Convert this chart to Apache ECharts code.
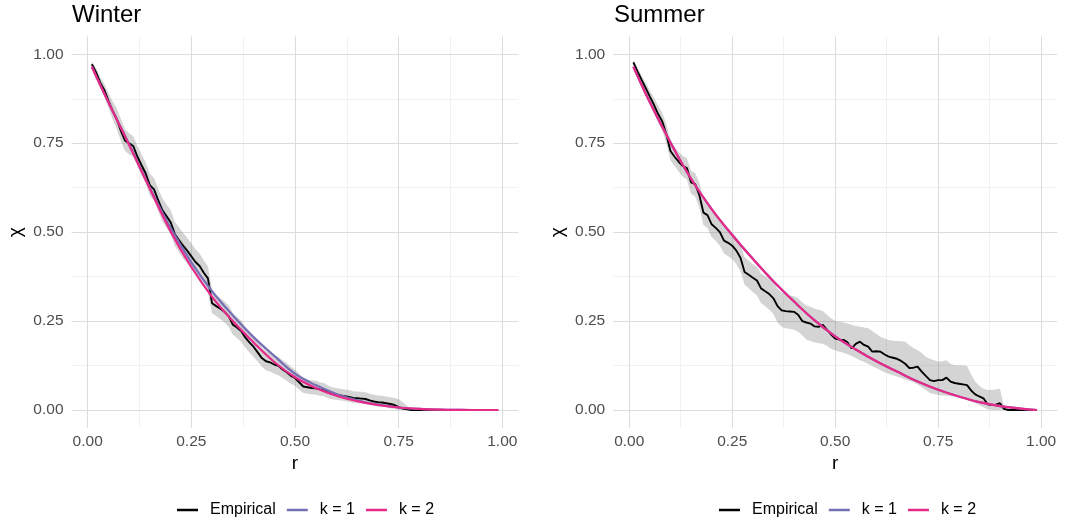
<!DOCTYPE html>
<html>
<head>
<meta charset="utf-8">
<script src="https://cdn.jsdelivr.net/npm/echarts@6/dist/echarts.min.js"></script>
<style>
  html, body { margin: 0; padding: 0; background: #ffffff; }
  #chart { width: 1083px; height: 522px; }
</style>
</head>
<body>
<div id="chart"></div>
<script>
// Evaluation grid for the empirical extremal dependence estimates
const rGrid = [
  0.01,0.02,0.03,0.04,0.05,0.06,0.07,0.08,0.09,0.10,
  0.11,0.12,0.13,0.14,0.15,0.16,0.17,0.18,0.19,0.20,
  0.21,0.22,0.23,0.24,0.25,0.26,0.27,0.28,0.29,0.30,
  0.31,0.32,0.33,0.34,0.35,0.36,0.37,0.38,0.39,0.40,
  0.41,0.42,0.43,0.44,0.45,0.46,0.47,0.48,0.49,0.50,
  0.51,0.52,0.53,0.54,0.55,0.56,0.57,0.58,0.59,0.60,
  0.61,0.62,0.63,0.64,0.65,0.66,0.67,0.68,0.69,0.70,
  0.71,0.72,0.73,0.74,0.75,0.76,0.77,0.78,0.79,0.80,
  0.81,0.82,0.83,0.84,0.85,0.86,0.87,0.88,0.89,0.90,
  0.91,0.92,0.93,0.94,0.95,0.96,0.97,0.98,0.99
];

// Winter: empirical chi and its confidence band
const winterEmp = [
  0.972,0.950,0.921,0.900,0.870,0.842,0.818,0.785,0.757,0.750,
  0.742,0.712,0.688,0.665,0.632,0.620,0.590,0.562,0.545,0.528,
  0.495,0.478,0.462,0.448,0.432,0.416,0.405,0.386,0.370,0.300,
  0.292,0.285,0.276,0.264,0.240,0.232,0.222,0.204,0.190,0.178,
  0.162,0.146,0.137,0.134,0.128,0.124,0.114,0.106,0.096,0.090,
  0.078,0.066,0.064,0.062,0.061,0.058,0.056,0.049,0.045,0.042,
  0.041,0.039,0.037,0.034,0.033,0.032,0.031,0.027,0.024,0.022,
  0.021,0.019,0.017,0.014,0.008,0.004,0.002,0,0,0,
  0,0,0,0,0,0,0,0,0,0,
  0,0,0,0,0,0,0,0,0
];
const winterLo = [
  0.962,0.938,0.907,0.882,0.850,0.818,0.790,0.756,0.728,0.718,
  0.712,0.684,0.660,0.636,0.602,0.588,0.558,0.530,0.512,0.494,
  0.462,0.444,0.426,0.412,0.396,0.380,0.366,0.350,0.330,0.272,
  0.264,0.256,0.246,0.234,0.212,0.202,0.192,0.176,0.162,0.150,
  0.136,0.122,0.112,0.108,0.102,0.098,0.090,0.082,0.074,0.068,
  0.058,0.048,0.046,0.044,0.043,0.040,0.039,0.033,0.030,0.028,
  0.027,0.025,0.023,0.020,0.019,0.018,0.017,0.014,0.012,0.010,
  0.009,0.007,0.005,0.003,0,0,0,0,0,0,
  0,0,0,0,0,0,0,0,0,0,
  0,0,0,0,0,0,0,0,0
];
const winterHi = [
  0.980,0.962,0.936,0.918,0.892,0.868,0.848,0.818,0.790,0.778,
  0.770,0.742,0.718,0.696,0.664,0.652,0.622,0.596,0.578,0.562,
  0.530,0.514,0.498,0.484,0.468,0.452,0.440,0.420,0.404,0.338,
  0.322,0.314,0.306,0.294,0.272,0.262,0.252,0.234,0.220,0.208,
  0.192,0.176,0.166,0.160,0.154,0.150,0.140,0.132,0.122,0.114,
  0.102,0.090,0.086,0.084,0.082,0.078,0.076,0.069,0.064,0.061,
  0.060,0.058,0.056,0.053,0.052,0.051,0.050,0.046,0.043,0.041,
  0.040,0.038,0.036,0.034,0.030,0.022,0.012,0.004,0,0,
  0,0,0,0,0,0,0,0,0,0,
  0,0,0,0,0,0,0,0,0
];

// Summer: empirical chi and its confidence band
const summerEmp = [
  0.977,0.952,0.928,0.905,0.881,0.858,0.832,0.812,0.775,0.728,
  0.712,0.698,0.686,0.680,0.640,0.635,0.605,0.555,0.548,0.522,
  0.512,0.500,0.476,0.470,0.462,0.448,0.428,0.388,0.380,0.372,
  0.364,0.342,0.334,0.326,0.314,0.292,0.280,0.278,0.277,0.276,
  0.268,0.250,0.246,0.243,0.235,0.234,0.239,0.226,0.212,0.201,
  0.198,0.197,0.190,0.173,0.186,0.192,0.183,0.178,0.164,0.165,
  0.164,0.156,0.150,0.147,0.144,0.138,0.130,0.118,0.119,0.122,
  0.108,0.096,0.084,0.081,0.084,0.084,0.091,0.080,0.076,0.074,
  0.072,0.070,0.055,0.044,0.038,0.033,0.016,0.014,0.015,0.019,
  0.003,0,0,0,0,0,0,0,0
];
const summerLo = [
  0.968,0.940,0.914,0.888,0.862,0.836,0.808,0.786,0.750,0.702,
  0.686,0.670,0.656,0.648,0.608,0.600,0.570,0.520,0.512,0.486,
  0.476,0.462,0.440,0.432,0.424,0.410,0.390,0.352,0.342,0.332,
  0.322,0.300,0.292,0.282,0.270,0.246,0.234,0.230,0.228,0.226,
  0.220,0.210,0.198,0.194,0.190,0.188,0.186,0.180,0.172,0.168,
  0.164,0.161,0.157,0.152,0.146,0.140,0.135,0.130,0.124,0.118,
  0.112,0.106,0.102,0.098,0.094,0.090,0.086,0.082,0.078,0.072,
  0.064,0.056,0.048,0.045,0.042,0.041,0.040,0.039,0.038,0.038,
  0.034,0.030,0.024,0.020,0.014,0.008,0.002,0,0,0,
  0,0,0,0,0,0,0,0,0
];
const summerHi = [
  0.984,0.962,0.940,0.920,0.898,0.878,0.856,0.836,0.804,0.758,
  0.740,0.726,0.714,0.708,0.672,0.666,0.640,0.592,0.584,0.558,
  0.548,0.536,0.514,0.506,0.498,0.486,0.466,0.430,0.420,0.410,
  0.402,0.384,0.376,0.370,0.360,0.340,0.330,0.326,0.322,0.320,
  0.314,0.302,0.294,0.290,0.285,0.282,0.278,0.268,0.258,0.250,
  0.248,0.246,0.243,0.240,0.236,0.234,0.232,0.230,0.222,0.214,
  0.206,0.201,0.197,0.195,0.194,0.193,0.192,0.182,0.174,0.168,
  0.160,0.150,0.144,0.140,0.136,0.137,0.140,0.130,0.126,0.126,
  0.126,0.124,0.100,0.080,0.068,0.060,0.056,0.056,0.058,0.060,
  0.010,0,0,0,0,0,0,0,0
];

// Fitted model curves (k = 1, k = 2)
const rModel = [0.01,0.05,0.10,0.15,0.20,0.25,0.30,0.35,0.40,0.45,0.50,
                0.55,0.60,0.65,0.70,0.75,0.80,0.85,0.90,0.95,0.99];
const winterK1 = [0.965,0.865,0.747,0.625,0.512,0.415,0.334,0.266,0.205,0.152,0.102,
                  0.070,0.045,0.027,0.015,0.007,0.003,0.001,0.0003,0,0];
const winterK2 = [0.965,0.865,0.745,0.622,0.502,0.402,0.318,0.250,0.190,0.135,0.092,
                  0.062,0.040,0.025,0.014,0.007,0.003,0.001,0.0003,0,0];
const summerK1 = [0.965,0.865,0.752,0.650,0.565,0.492,0.425,0.362,0.305,0.252,0.207,
                  0.170,0.137,0.108,0.080,0.057,0.038,0.022,0.011,0.004,0];
const summerK2 = [0.965,0.865,0.752,0.650,0.565,0.492,0.425,0.362,0.305,0.252,0.207,
                  0.170,0.137,0.108,0.080,0.057,0.038,0.022,0.011,0.004,0];

const panelTitles = ['Winter', 'Summer'];
const legendNames = ['Empirical', 'k = 1', 'k = 2'];
const tickValues = [0, 0.25, 0.5, 0.75, 1];

const FONT = '"Liberation Sans", Arial, Helvetica, sans-serif';
const COLORS = { emp: '#000000', k1: '#7570B3', k2: '#E7298A', band: 'rgba(120,120,120,0.32)' };

function tickLabel(v) {
  for (const t of tickValues) {
    if (Math.abs(v - t) < 1e-9) return t.toFixed(2);
  }
  return '';
}

function axisPair(kind, gridIndex) {
  const isX = kind === 'x';
  const ext = isX ? [-0.039, 1.039] : [-0.05, 1.05];
  const minor = {
    type: 'value', gridIndex, min: ext[0], max: ext[1],
    minInterval: 0.125, maxInterval: 0.125,
    position: isX ? 'top' : 'right',
    axisLine: { show: false }, axisTick: { show: false }, axisLabel: { show: false },
    splitLine: { show: true, showMinLine: false, showMaxLine: false,
                 lineStyle: { color: '#ededed', width: 0.8 } },
    z: 0
  };
  const major = {
    type: 'value', gridIndex, min: ext[0], max: ext[1],
    minInterval: 0.25, maxInterval: 0.25,
    position: isX ? 'bottom' : 'left',
    axisLine: { show: false }, axisTick: { show: false },
    axisLabel: { show: true, interval: 0, formatter: tickLabel, color: '#4d4d4d',
                 fontSize: 15.5, fontFamily: FONT, margin: isX ? 6 : 8 },
    splitLine: { show: true, showMinLine: false, showMaxLine: false,
                 lineStyle: { color: '#dcdcdc', width: 1.1 } },
    name: isX ? 'r' : 'χ',
    nameLocation: 'middle',
    nameGap: isX ? 26 : 46,
    nameRotate: isX ? 0 : 90,
    nameTextStyle: { color: '#000000', fontSize: 19, fontFamily: FONT },
    z: 1
  };
  return [minor, major];
}

function bandSeries(axisIdx, lo, hi) {
  return {
    type: 'custom', xAxisIndex: axisIdx, yAxisIndex: axisIdx, silent: true, z: 2,
    data: rGrid.map((r, i) => [r, lo[i], hi[i]]),
    encode: { x: 0, y: [1, 2] },
    renderItem: function (params, api) {
      if (params.dataIndex !== 0) return null;
      const pts = [];
      for (let i = 0; i < rGrid.length; i++) pts.push(api.coord([rGrid[i], hi[i]]));
      for (let i = rGrid.length - 1; i >= 0; i--) pts.push(api.coord([rGrid[i], lo[i]]));
      return { type: 'polygon', shape: { points: pts }, style: { fill: COLORS.band } };
    }
  };
}

function lineSeries(axisIdx, name, xs, ys, color, width, smooth, z) {
  return {
    type: 'line', name, xAxisIndex: axisIdx, yAxisIndex: axisIdx,
    data: xs.map((r, i) => [r, ys[i]]),
    showSymbol: false, symbol: 'none', smooth, z,
    lineStyle: { color, width }, itemStyle: { color }
  };
}

const [wxMinor, wxMajor] = axisPair('x', 0);
const [sxMinor, sxMajor] = axisPair('x', 1);
const [wyMinor, wyMajor] = axisPair('y', 0);
const [syMinor, syMajor] = axisPair('y', 1);

const legendBase = {
  orient: 'horizontal', top: 502, padding: 0, icon: 'rect', itemWidth: 21, itemHeight: 2.5, itemGap: 11,
  selectedMode: false,
  textStyle: { fontSize: 16, color: '#000000', fontFamily: FONT, padding: [0, 0, 0, 7] },
  data: legendNames
};

const titleStyle = { fontSize: 24, fontWeight: 'normal', color: '#000', fontFamily: FONT };

const option = {
  animation: false,
  backgroundColor: '#ffffff',
  textStyle: { fontFamily: FONT },
  title: [
    { text: panelTitles[0], left: 72, top: 3, padding: 0, textStyle: titleStyle },
    { text: panelTitles[1], left: 614, top: 3, padding: 0, textStyle: titleStyle }
  ],
  legend: [
    Object.assign({ left: 177 }, legendBase),
    Object.assign({ left: 719 }, legendBase)
  ],
  grid: [
    { left: 71.5, top: 36.5, width: 447, height: 391.3 },
    { left: 613.2, top: 36.5, width: 444, height: 391.3 }
  ],
  xAxis: [wxMinor, wxMajor, sxMinor, sxMajor],
  yAxis: [wyMinor, wyMajor, syMinor, syMajor],
  series: [
    bandSeries(1, winterLo, winterHi),
    lineSeries(1, legendNames[0], rGrid, winterEmp, COLORS.emp, 1.9, false, 3),
    lineSeries(1, legendNames[1], rModel, winterK1, COLORS.k1, 2.2, 0.4, 4),
    lineSeries(1, legendNames[2], rModel, winterK2, COLORS.k2, 2.2, 0.4, 5),
    bandSeries(3, summerLo, summerHi),
    lineSeries(3, legendNames[0], rGrid, summerEmp, COLORS.emp, 1.9, false, 3),
    lineSeries(3, legendNames[1], rModel, summerK1, COLORS.k1, 2.2, 0.4, 4),
    lineSeries(3, legendNames[2], rModel, summerK2, COLORS.k2, 2.2, 0.4, 5)
  ]
};

const chart = echarts.init(document.getElementById('chart'), null, { renderer: 'canvas' });
chart.setOption(option);
</script>
</body>
</html>
